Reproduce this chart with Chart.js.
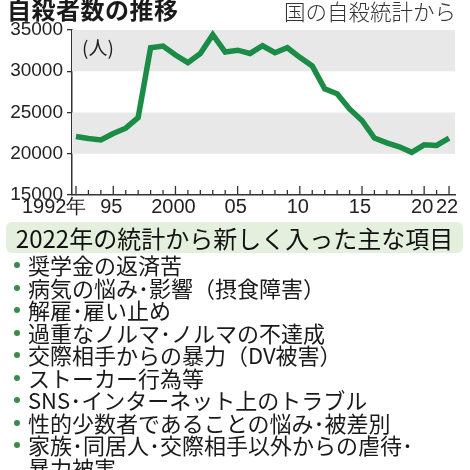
<!DOCTYPE html>
<html lang="ja">
<head>
<meta charset="utf-8">
<script src="https://cdn.jsdelivr.net/npm/chart.js@4.4.1/dist/chart.umd.min.js"></script>
<style>
  body {
    margin: 0;
    width: 470px;
    height: 470px;
    background: #fff;
    position: relative;
    overflow: hidden;
    font-family: "Noto Sans CJK JP", sans-serif;
    color: #1a1a1a;
  }
  #grafica { position: absolute; left: 0; top: 0; width: 470px; height: 224px; }
  #titulo {
    position: absolute; left: 7px; top: -4px;
    font-size: 24px; font-weight: bold; line-height: 26px; letter-spacing: 0.5px;
  }
  #fuente {
    position: absolute; right: 14px; top: -2px;
    font-size: 21.5px; line-height: 26px; color: #333; font-weight: 300;
  }
  #unidad {
    position: absolute; left: 82px; top: 36px;
    font-size: 19px; line-height: 22px; color: #222;
  }
  #caja {
    position: absolute; left: 6px; top: 222px; width: 457px; height: 31px;
    background: #e5efde; border-radius: 6px;
    font-size: 24px; line-height: 31px; text-align: center; color: #111;
  }
  #lista {
    position: absolute; left: 0; top: 253px; margin: 0; padding: 0;
    list-style: none; font-size: 22px; line-height: 22.5px; color: #1a1a1a;
  }
  #lista li { position: relative; padding-left: 28px; white-space: nowrap; }
  #lista li::before {
    content: ""; position: absolute; left: 14px; top: 9px;
    width: 6px; height: 6px; border-radius: 50%; background: #3b8a4c;
  }
</style>
</head>
<body>
<canvas id="grafica" width="470" height="224"></canvas>
<div id="titulo">自殺者数の推移</div>
<div id="fuente">国の自殺統計から</div>
<div id="unidad">(人)</div>
<div id="caja">2022年の統計から新しく入った主な項目</div>
<ul id="lista"></ul>
<script>
// Datos
const anios = [1992, 1993, 1994, 1995, 1996, 1997, 1998, 1999, 2000, 2001,
  2002, 2003, 2004, 2005, 2006, 2007, 2008, 2009, 2010, 2011,
  2012, 2013, 2014, 2015, 2016, 2017, 2018, 2019, 2020, 2021, 2022];
const suicidios = [22100, 21850, 21680, 22450, 23100, 24390, 32860, 33050, 31960, 31040,
  32140, 34430, 32330, 32550, 32160, 33090, 32250, 32850, 31690, 30650,
  27860, 27280, 25430, 24030, 21900, 21320, 20840, 20170, 21080, 21010, 21880];
const ticksY = [15000, 20000, 25000, 30000, 35000];
const aniosEtiqueta = [1992, 1995, 2000, 2005, 2010, 2015, 2020, 2022];
const textosEtiqueta = ["1992年", "95", "2000", "05", "10", "15", "20", "22"];
const bandasGris = [[20000, 25000], [30000, 35000]];
const items = [
  "奨学金の返済苦",
  "病気の悩み･影響（摂食障害）",
  "解雇･雇い止め",
  "過重なノルマ･ノルマの不達成",
  "交際相手からの暴力（DV被害）",
  "ストーカー行為等",
  "SNS･インターネット上のトラブル",
  "性的少数者であることの悩み･被差別",
  "家族･同居人･交際相手以外からの虐待･<br>暴力被害",
];

const lista = document.getElementById("lista");
items.forEach(function (t) {
  const li = document.createElement("li");
  li.innerHTML = t;
  lista.appendChild(li);
});

const pluginEjes = {
  id: "ejes",
  // Bandas grises detrás de la línea
  beforeDatasetsDraw(chart) {
    const { ctx, chartArea, scales } = chart;
    ctx.save();
    ctx.fillStyle = "#e8e8e8";
    bandasGris.forEach(function (b) {
      const top = scales.y.getPixelForValue(b[1]);
      const bottom = scales.y.getPixelForValue(b[0]);
      ctx.fillRect(chartArea.left, top, chartArea.right - chartArea.left, bottom - top);
    });
    ctx.restore();
  },
  // marcas del eje x hacia arriba y etiquetas de años
  afterDraw(chart) {
    const { ctx, chartArea, scales } = chart;
    ctx.save();
    ctx.strokeStyle = "#333";
    ctx.lineWidth = 1.3;
    anios.forEach(function (a) {
      const x = scales.x.getPixelForValue(a);
      const largo = aniosEtiqueta.includes(a) ? 9 : 5;
      ctx.beginPath();
      ctx.moveTo(x, chartArea.bottom);
      ctx.lineTo(x, chartArea.bottom - largo);
      ctx.stroke();
    });
    ctx.fillStyle = "#222";
    ctx.font = "normal 20px Liberation Sans, Arial, sans-serif";
    ctx.textBaseline = "middle";
    aniosEtiqueta.forEach(function (a, i) {
      const x = scales.x.getPixelForValue(a);
      if (i === 0) {
        // "1992年" empieza casi bajo el "15000"
        ctx.textAlign = "left";
        ctx.fillText(textosEtiqueta[i], x - 54, chartArea.bottom + 12);
      } else {
        ctx.textAlign = "center";
        ctx.fillText(textosEtiqueta[i], x - 2, chartArea.bottom + 12);
      }
    });
    ctx.restore();
  },
};

const ctx = document.getElementById("grafica").getContext("2d");
const grafica = new Chart(ctx, {
  type: "line",
  data: {
    datasets: [
      {
        data: anios.map((a, i) => ({ x: a, y: suicidios[i] })),
        borderColor: "#1a8c45",
        borderWidth: 5.5,
        pointRadius: 0,
        tension: 0,
        fill: false,
      },
    ],
  },
  options: {
    responsive: false,
    animation: false,
    devicePixelRatio: 1,
    layout: { padding: { top: 30, right: 15, left: 0, bottom: 0 } },
    scales: {
      x: {
        type: "linear",
        min: 1991.68,
        max: 2022.48,
        afterBuildTicks: (scale) => {
          scale.ticks = aniosEtiqueta.map((v) => ({ value: v }));
        },
        afterFit: (scale) => {
          scale.height = 29;
        },
        grid: { display: false, drawTicks: false },
        border: { display: true, color: "#333", width: 1.5 },
        ticks: { display: false },
      },
      y: {
        min: 15000,
        max: 35000,
        afterBuildTicks: (scale) => {
          scale.ticks = ticksY.map((v) => ({ value: v }));
        },
        afterFit: (scale) => {
          scale.width = 72;
        },
        grid: { drawOnChartArea: false, tickLength: 5, color: "#333", lineWidth: 1.3 },
        border: { display: true, color: "#333", width: 1.5 },
        ticks: {
          padding: 4,
          color: "#222",
          font: { family: "Liberation Sans", size: 19 },
          callback: function (value) {
            return String(value);
          },
        },
      },
    },
    plugins: {
      legend: { display: false },
      tooltip: { enabled: false },
    },
  },
  plugins: [pluginEjes],
});
</script>
</body>
</html>
